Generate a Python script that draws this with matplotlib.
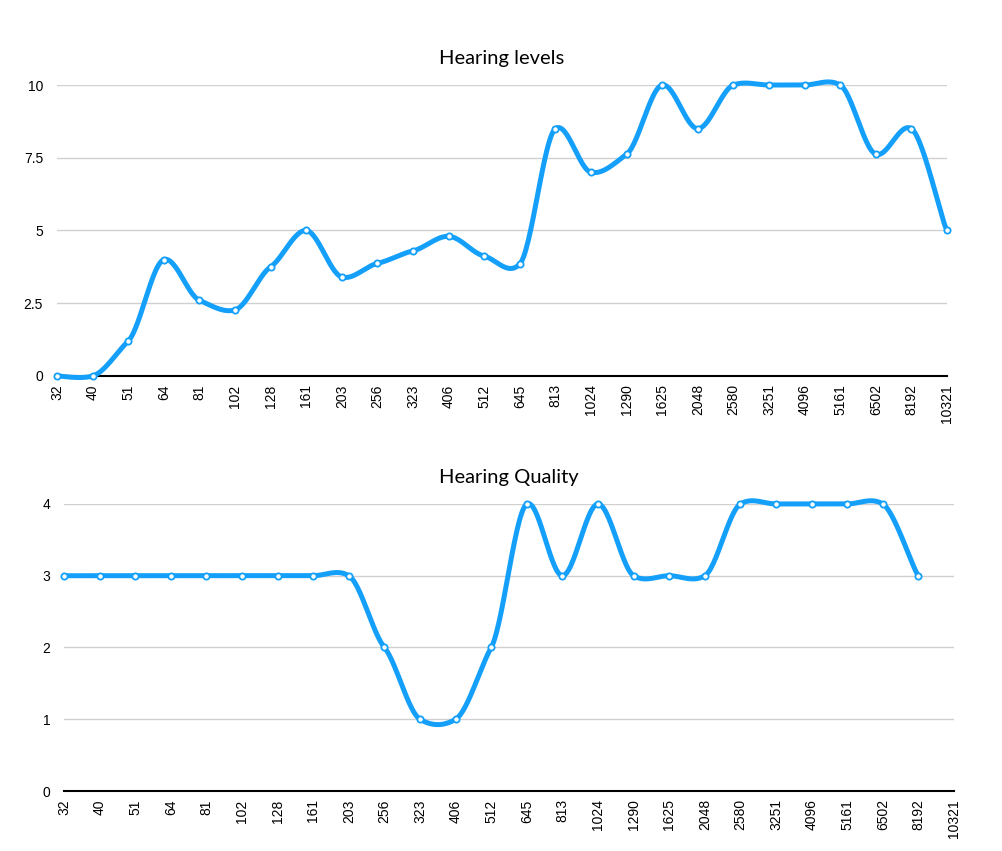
import numpy as np
import matplotlib.pyplot as plt

freqs = ["32", "40", "51", "64", "81", "102", "128", "161", "203", "256", "323", "406", "512",
         "645", "813", "1024", "1290", "1625", "2048", "2580", "3251", "4096", "5161", "6502",
         "8192", "10321"]
levels = [0, 0, 1.2, 4, 2.6, 2.27, 3.75, 5, 3.4, 3.87, 4.3, 4.8, 4.12,
          3.85, 8.5, 7, 7.62, 10, 8.5, 10, 10, 10, 10, 7.62, 8.5, 5]
quality = [3, 3, 3, 3, 3, 3, 3, 3, 3, 2, 1, 1, 2,
           4, 3, 4, 3, 3, 3, 4, 4, 4, 4, 4, 3]

blue = "#14a0fa"


def smooth(x, y, n=30, k=0.6):
    # cardinal spline through the points, like the Numbers smooth line
    x = np.asarray(x, float)
    y = np.asarray(y, float)
    px = np.concatenate([[x[0]], x, [x[-1]]])
    py = np.concatenate([[y[0]], y, [y[-1]]])
    xs, ys = [], []
    t = np.linspace(0, 1, n)
    for i in range(1, len(px) - 2):
        for p, out, kk in ((px, xs, 1.0), (py, ys, k)):
            p0, p1, p2, p3 = p[i - 1], p[i], p[i + 1], p[i + 2]
            m1 = kk * (p2 - p0) / 2
            m2 = kk * (p3 - p1) / 2
            h00 = 2 * t**3 - 3 * t**2 + 1
            h10 = t**3 - 2 * t**2 + t
            h01 = -2 * t**3 + 3 * t**2
            h11 = t**3 - t**2
            out.append(h00 * p1 + h10 * m1 + h01 * p2 + h11 * m2)
    return np.concatenate(xs), np.concatenate(ys)


def draw(ax, vals, title, yticks, ylabels):
    x = np.arange(len(vals))
    sx, sy = smooth(x, vals)
    ax.plot(sx, sy, color=blue, linewidth=3.6, solid_capstyle="round", clip_on=False, zorder=3)
    ax.plot(x, vals, linestyle="none", marker="o", markersize=4.5, markerfacecolor="white",
            markeredgecolor=blue, markeredgewidth=1.3, clip_on=False, zorder=4)
    ax.set_xlim(0, len(freqs) - 1)
    ax.set_ylim(yticks[0], yticks[-1])
    ax.set_xticks(np.arange(len(freqs)))
    ax.set_xticklabels(freqs, rotation=90, fontsize=10, family="Liberation Sans")
    ax.set_yticks(yticks)
    ax.set_yticklabels(ylabels, fontsize=10, family="Liberation Sans")
    ax.tick_params(length=0, pad=6)
    ax.tick_params(axis="y", pad=10)
    ax.grid(axis="y", color="#d0d0d0", linewidth=1)
    ax.set_axisbelow(True)
    for s in ["top", "right", "left"]:
        ax.spines[s].set_visible(False)
    ax.spines["bottom"].set_linewidth(1.5)
    ax.spines["bottom"].set_zorder(2)
    ax.set_title(title, fontsize=14.5, family="Lato", pad=15)


fig = plt.figure(figsize=(10.02, 8.51), dpi=100)
ax1 = fig.add_axes([0.0569, 0.5582, 0.8882, 0.3419])
ax2 = fig.add_axes([0.0639, 0.0705, 0.8882, 0.3373])

draw(ax1, levels, "Hearing levels", [0, 2.5, 5, 7.5, 10], ["0", "2.5", "5", "7.5", "10"])
draw(ax2, quality, "Hearing Quality", [0, 1, 2, 3, 4], ["0", "1", "2", "3", "4"])

fig.savefig("out.png", dpi=100)
